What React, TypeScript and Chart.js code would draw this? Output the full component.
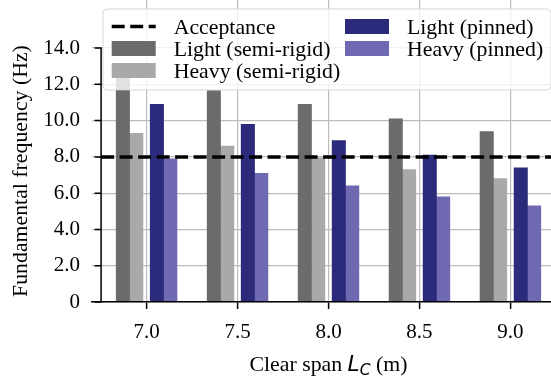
import React, { useEffect, useRef } from "react";
import { Chart, registerables } from "chart.js";

Chart.register(...registerables);

// ---- data ----
const SPANS = [7.0, 7.5, 8.0, 8.5, 9.0];
const LIGHT_SEMI = [12.4, 11.65, 10.9, 10.1, 9.4];
const HEAVY_SEMI = [9.3, 8.6, 7.95, 7.3, 6.8];
const LIGHT_PIN = [10.9, 9.8, 8.9, 8.1, 7.4];
const HEAVY_PIN = [7.9, 7.1, 6.4, 5.8, 5.3];
const ACCEPTANCE = 8.0;
const Y_TICKS = [0, 2, 4, 6, 8, 10, 12, 14];
const SERIES_LABELS = ["Light (semi-rigid)", "Heavy (semi-rigid)", "Light (pinned)", "Heavy (pinned)"];
const ACCEPT_LABEL = "Acceptance";

// ---- layout / style constants ----
const X_MIN = 6.7;
const X_MAX = 9.3;
const SPINE_X = 6.75;
const Y_MAX = 16.65;
const BAR_W = 0.0735;
const PAIR_GAP = 0.04;
const OFFSETS = [
  -(PAIR_GAP / 2 + 1.5 * BAR_W),
  -(PAIR_GAP / 2 + 0.5 * BAR_W),
  PAIR_GAP / 2 + 0.5 * BAR_W,
  PAIR_GAP / 2 + 1.5 * BAR_W,
];
const COLORS = ["#6b6b6b", "#a9a9a9", "#2c2b7b", "#6f69b1"];
const GRID = "#bdbdbd";
const SERIF = '"Liberation Serif", "Times New Roman", serif';
const FS = 21;
const FS_LABEL = 21.8;

const overlayPlugin = {
  id: "overlay",
  afterDraw(chart: any) {
    const { ctx, chartArea } = chart;
    const x = chart.scales.x;
    const y = chart.scales.y;
    ctx.save();

    // left spine bounded to tick range
    const sx = x.getPixelForValue(SPINE_X);
    const y0 = y.getPixelForValue(Y_TICKS[0]);
    const yTop = y.getPixelForValue(Y_TICKS[Y_TICKS.length - 1]);
    ctx.strokeStyle = "#000";
    ctx.lineWidth = 1.5;
    ctx.beginPath();
    ctx.moveTo(sx, y0 + 0.75);
    ctx.lineTo(sx, yTop - 0.75);
    Y_TICKS.forEach((v) => {
      const py = y.getPixelForValue(v);
      ctx.moveTo(sx - 6.5, py);
      ctx.lineTo(sx, py);
    });
    ctx.stroke();

    // y title
    ctx.save();
    ctx.translate(21, (y0 + yTop) / 2 - 4);
    ctx.rotate(-Math.PI / 2);
    ctx.font = `${FS_LABEL}px ${SERIF}`;
    ctx.fillStyle = "#000";
    ctx.textAlign = "center";
    ctx.textBaseline = "middle";
    ctx.fillText("Fundamental frequency (Hz)", 0, 0);
    ctx.restore();

    // x title with math L_C
    const parts = [
      { t: "Clear span ", f: `${FS_LABEL}px ${SERIF}`, dy: 0 },
      { t: "L", f: `italic ${FS_LABEL}px "DejaVu Sans"`, dy: 0 },
      { t: "C", f: `italic 15.5px "DejaVu Sans"`, dy: 4 },
      { t: " (m)", f: `${FS_LABEL}px ${SERIF}`, dy: 0 },
    ];
    let total = 0;
    const widths = parts.map((p) => {
      ctx.font = p.f;
      const w = ctx.measureText(p.t).width;
      total += w;
      return w;
    });
    let tx = (chartArea.left + chartArea.right) / 2 - total / 2;
    const base = 371;
    ctx.textAlign = "left";
    ctx.textBaseline = "alphabetic";
    ctx.fillStyle = "#000";
    parts.forEach((p, i) => {
      ctx.font = p.f;
      ctx.fillText(p.t, tx, base + p.dy);
      tx += widths[i];
    });

    // legend (2 columns, column-major)
    const LX = 103, LY = 9, LW = 448, LH = 81;
    ctx.beginPath();
    if ((ctx as any).roundRect) (ctx as any).roundRect(LX, LY, LW, LH, 4);
    else ctx.rect(LX, LY, LW, LH);
    ctx.fillStyle = "rgba(255,255,255,0.8)";
    ctx.fill();
    ctx.strokeStyle = "rgba(204,204,204,0.8)";
    ctx.lineWidth = 1;
    ctx.stroke();

    const items = chart.data.datasets;
    const rows = Math.ceil(items.length / 2);
    const colX = [8.7, 242];
    items.forEach((ds: any, i: number) => {
      const col = Math.floor(i / rows);
      const row = i % rows;
      const hx = LX + colX[col];
      const cy = LY + 17.5 + row * 22;
      if (ds.type === "line") {
        ctx.save();
        ctx.strokeStyle = ds.borderColor;
        ctx.lineWidth = ds.borderWidth;
        ctx.setLineDash(ds.borderDash);
        ctx.beginPath();
        ctx.moveTo(hx, cy);
        ctx.lineTo(hx + 44, cy);
        ctx.stroke();
        ctx.restore();
      } else {
        ctx.fillStyle = ds.backgroundColor;
        ctx.fillRect(hx, cy - 7.5, 44, 15);
      }
      ctx.fillStyle = "#000";
      ctx.font = `${FS_LABEL}px ${SERIF}`;
      ctx.textAlign = "left";
      ctx.textBaseline = "alphabetic";
      ctx.fillText(ds.label, hx + 62, cy + 7.5);
    });

    ctx.restore();
  },
};

export default function App() {
  const ref = useRef<HTMLCanvasElement | null>(null);

  useEffect(() => {
    if (!ref.current) return;
    const seriesValues = [LIGHT_SEMI, HEAVY_SEMI, LIGHT_PIN, HEAVY_PIN];
    const barSets = seriesValues.map((vals, k) => ({
      type: "bar" as const,
      label: SERIES_LABELS[k],
      data: SPANS.map((s, i) => ({ x: s + OFFSETS[k], y: vals[i] })),
      backgroundColor: COLORS[k],
      borderWidth: 0,
      grouped: false,
      categoryPercentage: 1,
      barPercentage: 1,
      order: 1,
    }));
    const lineSet = {
      type: "line" as const,
      label: ACCEPT_LABEL,
      data: [
        { x: SPINE_X, y: ACCEPTANCE },
        { x: X_MAX, y: ACCEPTANCE },
      ],
      borderColor: "#000",
      borderWidth: 3.5,
      borderDash: [13, 5.5],
      pointRadius: 0,
      fill: false,
      order: 0,
    };

    const chart = new Chart(ref.current, {
      type: "bar",
      data: { datasets: [lineSet as any, ...barSets] },
      options: {
        animation: false,
        responsive: false,
        devicePixelRatio: 1,
        layout: { padding: 0 },
        plugins: {
          legend: { display: false },
          tooltip: { enabled: false },
        },
        scales: {
          x: {
            type: "linear",
            offset: false,
            min: X_MIN,
            max: X_MAX,
            afterBuildTicks: (s: any) => {
              s.ticks = SPANS.map((v) => ({ value: v }));
            },
            afterFit: (s: any) => {
              s.height = 75;
              s.paddingLeft = 0;
              s.paddingRight = 0;
            },
            grid: {
              offset: false,
              color: GRID,
              lineWidth: 1.2,
              drawTicks: true,
              tickLength: 7,
              tickColor: "#000",
              tickWidth: 1.5,
            },
            border: { display: true, color: "#000", width: 1.5, z: 1 },
            ticks: {
              font: { family: SERIF, size: FS },
              color: "#000",
              padding: 11,
              maxRotation: 0,
              autoSkip: false,
              callback: (v: any) => Number(v).toFixed(1),
            },
          },
          y: {
            min: 0,
            max: Y_MAX,
            afterBuildTicks: (s: any) => {
              s.ticks = Y_TICKS.map((v) => ({ value: v }));
            },
            afterFit: (s: any) => {
              s.width = 92;
              s.paddingTop = 0;
              s.paddingBottom = 0;
            },
            grid: { color: GRID, lineWidth: 1.2, drawTicks: false },
            border: { display: false },
            ticks: {
              font: { family: SERIF, size: FS },
              color: "#000",
              padding: 12,
              autoSkip: false,
              callback: (v: any) => (Number(v) === 0 ? "0" : Number(v).toFixed(1)),
            },
          },
        },
      } as any,
      plugins: [overlayPlugin],
    });
    return () => chart.destroy();
  }, []);

  return (
    <div
      style={{
        position: "fixed",
        left: 0,
        top: 0,
        width: 551,
        height: 377,
        overflow: "hidden",
        background: "#fff",
      }}
    >
      <canvas ref={ref} width={565} height={377} style={{ display: "block", width: 565, height: 377 }} />
    </div>
  );
}
